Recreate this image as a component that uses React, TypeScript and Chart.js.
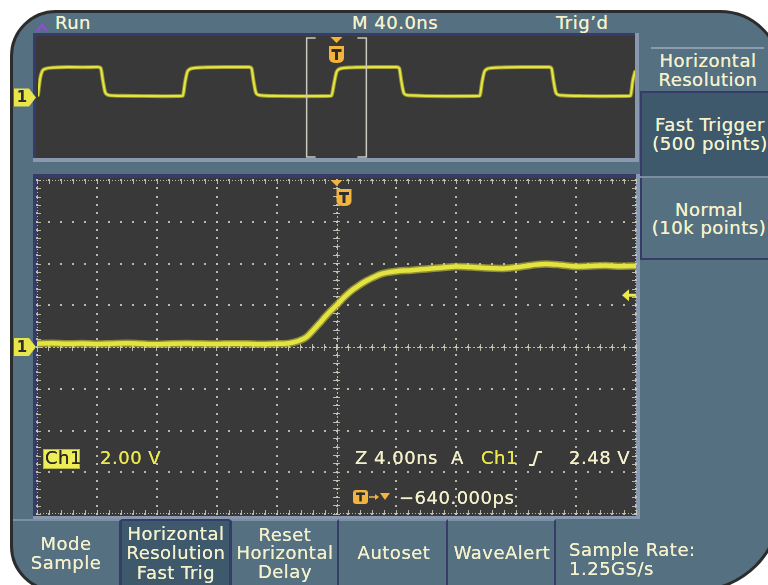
import React, { useEffect, useRef } from 'react';
import { Chart, registerables } from 'chart.js';

Chart.register(...registerables);

// ---------------- data ----------------
// Main (zoomed) acquisition: 4.00 ns/div, 2.00 V/div, trigger at 0 ns
const mainTimeNs = [
  -20, -19, -18, -17, -16, -15, -14, -13, -12, -11, -10, -9, -8, -7, -6, -5, -4,
  -3.5, -3, -2.5, -2, -1.5, -1, -0.5, 0, 0.5, 1, 1.5, 2, 2.5, 3, 3.5, 4,
  5, 6, 7, 8, 9, 10, 11, 12, 13, 14, 15, 16, 17, 18, 19, 20,
];
const mainVolts = [
  0.16, 0.18, 0.15, 0.17, 0.14, 0.16, 0.18, 0.15, 0.13, 0.16, 0.17, 0.15, 0.14, 0.16, 0.15, 0.13, 0.15,
  0.16, 0.2, 0.3, 0.48, 0.85, 1.25, 1.65, 2.0, 2.38, 2.7, 2.95, 3.17, 3.35, 3.5, 3.58, 3.63,
  3.68, 3.74, 3.8, 3.86, 3.83, 3.78, 3.76, 3.82, 3.92, 3.98, 3.93, 3.86, 3.88, 3.9, 3.87, 3.88,
];

// Overview record: 40.0 ns/div
const overviewTimeNs = [
  0, 1.5, 3, 5, 10, 20, 30, 40,
  42, 43.5, 45, 46.5, 48, 55, 70, 85,
  97, 98.5, 100, 101.5, 104, 110, 125, 141.5,
  143, 144.5, 146, 147.5, 150, 160, 180,
  196.5, 198.5, 200, 201.5, 204, 210, 225, 240.5,
  242, 243.5, 245, 246.5, 250, 260, 280,
  296, 297.5, 299, 300.5, 303, 310, 325, 342.5,
  344, 345.5, 347, 348.5, 352, 365, 380,
  397, 398.5, 400,
];
const overviewVolts = [
  0.3, 2.6, 3.55, 3.8, 3.95, 4.02, 4.0, 4.03,
  3.9, 2.2, 0.7, 0.38, 0.28, 0.22, 0.2, 0.18,
  0.22, 2.0, 3.35, 3.72, 3.88, 3.97, 4.02, 4.02,
  3.88, 2.1, 0.65, 0.36, 0.27, 0.2, 0.18,
  0.22, 2.0, 3.35, 3.72, 3.88, 3.97, 4.02, 4.02,
  3.88, 2.1, 0.65, 0.36, 0.27, 0.2, 0.18,
  0.22, 2.0, 3.35, 3.72, 3.88, 3.97, 4.02, 4.02,
  3.88, 2.1, 0.65, 0.36, 0.27, 0.2, 0.18,
  0.22, 2.2, 3.4,
];

const mainTimeDivs = [-20, -16, -12, -8, -4, 0, 4, 8, 12, 16, 20];
const voltDivs = [-8, -6, -4, -2, 0, 2, 4, 6, 8];
const overviewTimeRange = [0, 400];
const zoomWindowNs = [180, 220];
const overviewTriggerNs = 200;
const mainTriggerNs = 0;
const triggerLevelV = 2.48;
const ch1OffsetV = 0;

// ---------------- styles ----------------
const BEZEL = '#557080';
const BEZEL_DARK = '#3d596b';
const NAVY = '#363b68';
const LIGHT = '#8898ae';
const SCREEN = '#393939';
const CREAM = '#f4f1cc';
const YELLOW = '#ebe94c';
const ORANGE = '#f2b43c';
const FONT = '"DejaVu Sans", Verdana, sans-serif';

function drawChannelMarker(ctx: CanvasRenderingContext2D, y: number) {
  ctx.save();
  ctx.fillStyle = '#e8e64a';
  ctx.beginPath();
  ctx.moveTo(14, y - 9);
  ctx.lineTo(29, y - 9);
  ctx.lineTo(36, y);
  ctx.lineTo(29, y + 9);
  ctx.lineTo(14, y + 9);
  ctx.closePath();
  ctx.fill();
  ctx.fillStyle = '#2e2e2e';
  ctx.font = `bold 15px ${FONT}`;
  ctx.textAlign = 'center';
  ctx.textBaseline = 'middle';
  ctx.fillText('1', 22, y + 1);
  ctx.restore();
}

function drawTriggerMarker(ctx: CanvasRenderingContext2D, tx: number, triTop: number, sx: number, sTop: number) {
  ctx.save();
  ctx.fillStyle = ORANGE;
  ctx.beginPath();
  ctx.moveTo(tx - 6, triTop);
  ctx.lineTo(tx + 6, triTop);
  ctx.lineTo(tx, triTop + 6);
  ctx.closePath();
  ctx.fill();
  const w = 15, h = 17;
  ctx.beginPath();
  ctx.moveTo(sx - w / 2, sTop);
  ctx.lineTo(sx + w / 2, sTop);
  ctx.lineTo(sx + w / 2, sTop + h - 5);
  ctx.quadraticCurveTo(sx + w / 2, sTop + h, sx, sTop + h);
  ctx.quadraticCurveTo(sx - w / 2, sTop + h, sx - w / 2, sTop + h - 5);
  ctx.closePath();
  ctx.fill();
  ctx.fillStyle = '#2e2e2e';
  ctx.fillRect(sx - 5, sTop + 3, 10, 3);
  ctx.fillRect(sx - 1.5, sTop + 3, 3, 11);
  ctx.restore();
}

function minorValues(divs: number[]) {
  const out: number[] = [];
  for (let i = 0; i < divs.length - 1; i++) {
    for (let k = 0; k < 5; k++) out.push(divs[i] + ((divs[i + 1] - divs[i]) * k) / 5);
  }
  out.push(divs[divs.length - 1]);
  return out;
}

const graticulePlugin = {
  id: 'graticule',
  beforeDatasetsDraw(chart: any) {
    const { ctx, chartArea: a, scales } = chart;
    const xs = scales.x, ys = scales.y;
    const xMinor = minorValues(mainTimeDivs);
    const yMinor = minorValues(voltDivs);
    ctx.save();
    ctx.fillStyle = 'rgba(200,200,184,0.9)';
    const dot = (px: number, py: number, w = 2, h = 2) =>
      ctx.fillRect(Math.round(px - w / 2), Math.round(py - h / 2), w, h);
    for (const tv of mainTimeDivs) {
      const px = xs.getPixelForValue(tv);
      for (const v of yMinor) dot(px, ys.getPixelForValue(v));
    }
    for (const v of voltDivs) {
      const py = ys.getPixelForValue(v);
      for (const tv of xMinor) dot(xs.getPixelForValue(tv), py);
    }
    const cx = xs.getPixelForValue(0), cy = ys.getPixelForValue(0);
    for (const v of yMinor) dot(cx, ys.getPixelForValue(v), 7, 1);
    for (const tv of xMinor) dot(xs.getPixelForValue(tv), cy, 1, 7);
    for (let py = a.top; py <= a.bottom; py += 4) ctx.fillRect(Math.round(cx), py, 1, 2);
    for (let px = a.left; px <= a.right; px += 4) ctx.fillRect(px, Math.round(cy), 2, 1);
    for (const v of yMinor) {
      const py = Math.round(ys.getPixelForValue(v));
      ctx.fillRect(a.left, py, 4, 1);
      ctx.fillRect(a.right - 4, py, 4, 1);
    }
    for (const tv of xMinor) {
      const px = Math.round(xs.getPixelForValue(tv));
      ctx.fillRect(px, a.top, 1, 4);
      ctx.fillRect(px, a.bottom - 4, 1, 4);
    }
    for (let px = a.left; px <= a.right; px += 3) {
      ctx.fillRect(px, a.top, 1, 1);
      ctx.fillRect(px, a.bottom - 1, 1, 1);
    }
    for (let py = a.top; py <= a.bottom; py += 3) {
      ctx.fillRect(a.left, py, 1, 1);
      ctx.fillRect(a.right - 1, py, 1, 1);
    }
    ctx.restore();
  },
};

const mainMarkersPlugin = {
  id: 'mainMarkers',
  afterDatasetsDraw(chart: any) {
    const { ctx, chartArea: a, scales } = chart;
    const xs = scales.x, ys = scales.y;
    drawChannelMarker(ctx, ys.getPixelForValue(ch1OffsetV));
    const ty = ys.getPixelForValue(triggerLevelV);
    ctx.save();
    ctx.fillStyle = YELLOW;
    ctx.beginPath();
    ctx.moveTo(a.right - 14, ty);
    ctx.lineTo(a.right - 7, ty - 6);
    ctx.lineTo(a.right - 7, ty + 6);
    ctx.closePath();
    ctx.fill();
    ctx.fillRect(a.right - 8, ty - 1.5, 8, 3);
    ctx.restore();
    const tx = xs.getPixelForValue(mainTriggerNs);
    drawTriggerMarker(ctx, tx, a.top, tx + 7.5, a.top + 9);
  },
};

const overviewMarkersPlugin = {
  id: 'overviewMarkers',
  afterDatasetsDraw(chart: any) {
    const { ctx, chartArea: a, scales } = chart;
    const xs = scales.x, ys = scales.y;
    drawChannelMarker(ctx, ys.getPixelForValue(ch1OffsetV));
    const xa = xs.getPixelForValue(zoomWindowNs[0]);
    const xb = xs.getPixelForValue(zoomWindowNs[1]);
    ctx.save();
    ctx.strokeStyle = '#c9c9bf';
    ctx.lineWidth = 1.5;
    ctx.beginPath();
    ctx.moveTo(xa + 9, a.top + 1); ctx.lineTo(xa, a.top + 1); ctx.lineTo(xa, a.bottom - 1); ctx.lineTo(xa + 9, a.bottom - 1);
    ctx.moveTo(xb - 9, a.top + 1); ctx.lineTo(xb, a.top + 1); ctx.lineTo(xb, a.bottom - 1); ctx.lineTo(xb - 9, a.bottom - 1);
    ctx.stroke();
    ctx.restore();
    const tx = xs.getPixelForValue(overviewTriggerNs);
    drawTriggerMarker(ctx, tx, a.top, tx, a.top + 9);
  },
};

function traceDatasets(times: number[], volts: number[], outer: number, inner: number) {
  const pts = times.map((t, i) => ({ x: t, y: volts[i] }));
  const common = { pointRadius: 0, fill: false, cubicInterpolationMode: 'monotone' as const, borderJoinStyle: 'round' as const, borderCapStyle: 'round' as const };
  return [
    { ...common, data: pts, borderColor: 'rgba(215,215,55,0.55)', borderWidth: outer },
    { ...common, data: pts, borderColor: '#f4f44c', borderWidth: inner },
  ];
}

function baseOptions(xMin: number, xMax: number, padding: any) {
  return {
    animation: false as const,
    responsive: false,
    maintainAspectRatio: false,
    events: [] as any[],
    layout: { padding },
    scales: {
      x: { type: 'linear' as const, min: xMin, max: xMax, display: false },
      y: { type: 'linear' as const, min: voltDivs[0], max: voltDivs[voltDivs.length - 1], display: false },
    },
    plugins: { legend: { display: false }, tooltip: { enabled: false } },
  };
}

const Txt = ({ x, cy, children, color = CREAM, align = 'left', size = 18 }: any) => (
  <div
    style={{
      position: 'absolute',
      left: x,
      top: cy - size * 0.482,
      fontSize: size,
      lineHeight: `${size}px`,
      color,
      whiteSpace: 'nowrap',
      letterSpacing: '0.5px',
      textShadow: `0 0 0.6px ${color}`,
      transform: align === 'center' ? 'translateX(-50%)' : undefined,
    }}
  >
    {children}
  </div>
);

const Box = (p: any) => <div style={{ position: 'absolute', boxSizing: 'border-box', ...p }} />;

export default function App() {
  const ovRef = useRef<HTMLCanvasElement>(null);
  const mainRef = useRef<HTMLCanvasElement>(null);

  useEffect(() => {
    const ov = new Chart(ovRef.current as HTMLCanvasElement, {
      type: 'line',
      data: { datasets: traceDatasets(overviewTimeNs, overviewVolts, 4, 2.2) as any },
      options: baseOptions(overviewTimeRange[0], overviewTimeRange[1], { left: 38, right: 5, top: 7, bottom: 4 }) as any,
      plugins: [overviewMarkersPlugin],
    });
    const main = new Chart(mainRef.current as HTMLCanvasElement, {
      type: 'line',
      data: { datasets: traceDatasets(mainTimeNs, mainVolts, 7.5, 4.5) as any },
      options: baseOptions(mainTimeDivs[0], mainTimeDivs[mainTimeDivs.length - 1], { left: 37, right: 4, top: 15, bottom: 6 }) as any,
      plugins: [graticulePlugin, mainMarkersPlugin],
    });
    return () => {
      ov.destroy();
      main.destroy();
    };
  }, []);

  return (
    <div style={{ position: 'fixed', left: 0, top: 0, width: 768, height: 585, background: '#fff', overflow: 'hidden', fontFamily: FONT }}>
      <div
        style={{
          position: 'absolute', left: 10, top: 10, width: 772, height: 582, boxSizing: 'border-box',
          border: '3px solid #2c2c2c', borderRadius: '46px 62px 86px 46px', overflow: 'hidden', background: BEZEL,
        }}
      >
        <div style={{ position: 'absolute', left: -13, top: -13, width: 800, height: 620 }}>
          {/* status line */}
          <svg style={{ position: 'absolute', left: 0, top: 0 }} width={60} height={40}>
            <polygon points="36,31 42,22 48,31 45,31 42,26.5 39,31" fill="#8a4fd0" />
          </svg>
          <Txt x={55} cy={23}>Run</Txt>
          <Txt x={352} cy={23}>M 40.0ns</Txt>
          <Txt x={556} cy={23}>Trig’d</Txt>

          {/* overview panel */}
          <Box left={33} top={33} width={606} height={129} background={LIGHT} />
          <Box left={33} top={33} width={602} height={125} background={NAVY} />
          <Box left={36} top={36} width={599} height={122} background={SCREEN} />

          {/* main panel */}
          <Box left={33} top={174} width={607} height={345} background={LIGHT} />
          <Box left={33} top={174} width={603} height={342} background={NAVY} />
          <Box left={37} top={178} width={599} height={338} background={SCREEN} />

          <canvas ref={ovRef} width={640} height={132} style={{ position: 'absolute', left: 0, top: 30 }} />
          <canvas ref={mainRef} width={640} height={355} style={{ position: 'absolute', left: 0, top: 165 }} />

          {/* readouts */}
          <Box left={43} top={449} width={37} height={20} background="#efed56" border="1px solid #b8b640" />
          <Txt x={45} cy={458} color="#2a2a2a">Ch1</Txt>
          <Txt x={100} cy={458} color={YELLOW}>2.00 V</Txt>
          <Txt x={355} cy={458}>Z 4.00ns</Txt>
          <Txt x={451} cy={458}>A</Txt>
          <Txt x={481} cy={458} color={YELLOW}>Ch1</Txt>
          <svg style={{ position: 'absolute', left: 0, top: 0 }} width={640} height={520}>
            <polyline points="529,465 533.5,465 537.5,452 542,452" fill="none" stroke={CREAM} strokeWidth={2} />
            <rect x={353} y={490} width={15} height={14} rx={3} fill={ORANGE} />
            <rect x={356} y={492.5} width={9} height={2.5} fill="#2e2e2e" />
            <rect x={359.3} y={492.5} width={2.5} height={9} fill="#2e2e2e" />
            <line x1={369} y1={497} x2={376} y2={497} stroke={ORANGE} strokeWidth={1.5} />
            <polygon points="375,494 379,497 375,500" fill={ORANGE} />
            <polygon points="380,493 390,493 385,500" fill={ORANGE} />
          </svg>
          <Txt x={569} cy={458}>2.48 V</Txt>
          <Txt x={399} cy={498}>−640.000ps</Txt>

          {/* right side menu */}
          <Box left={651} top={47} width={113} height={2} background="#8a9cae" />
          <Txt x={708} cy={61} align="center">Horizontal</Txt>
          <Txt x={708} cy={79.5} align="center">Resolution</Txt>
          <Box left={640} top={91} width={140} height={85} background={BEZEL_DARK} borderTop={`2px solid ${NAVY}`} borderLeft={`2px solid ${NAVY}`} />
          <Txt x={710} cy={125} align="center">Fast Trigger</Txt>
          <Txt x={710} cy={143.5} align="center">(500 points)</Txt>
          <Box left={640} top={176} width={140} height={2} background="#7a8ea0" />
          <Box left={640} top={178} width={140} height={82} borderLeft={`2px solid ${NAVY}`} borderBottom={`2px solid ${NAVY}`} />
          <Txt x={709} cy={209.5} align="center">Normal</Txt>
          <Txt x={709} cy={228} align="center">(10k points)</Txt>

          {/* bottom buttons */}
          <Box left={10} top={519} width={112} height={80} borderTop="2px solid #7b90a3" borderRight={`3px solid ${NAVY}`} />
          <Box left={122} top={519} width={107} height={80} background={BEZEL_DARK} borderTop={`2px solid ${NAVY}`} />
          <Box left={229} top={519} width={110} height={80} borderTop="2px solid #7b90a3" borderLeft={`3px solid ${NAVY}`} borderRight={`2px solid ${NAVY}`} />
          <Box left={339} top={519} width={109} height={80} borderTop="2px solid #7b90a3" borderRight={`2px solid ${NAVY}`} />
          <Box left={448} top={519} width={108} height={80} borderTop="2px solid #7b90a3" borderRight={`2px solid ${NAVY}`} />

          <Txt x={66} cy={544} align="center">Mode</Txt>
          <Txt x={66} cy={562.5} align="center">Sample</Txt>
          <Txt x={176} cy={534} align="center">Horizontal</Txt>
          <Txt x={176} cy={553} align="center">Resolution</Txt>
          <Txt x={176} cy={573} align="center">Fast Trig</Txt>
          <Txt x={285} cy={534.5} align="center">Reset</Txt>
          <Txt x={285} cy={553} align="center">Horizontal</Txt>
          <Txt x={285} cy={572} align="center">Delay</Txt>
          <Txt x={394} cy={552.5} align="center">Autoset</Txt>
          <Txt x={502} cy={552.5} align="center">WaveAlert</Txt>
          <Txt x={569} cy={550}>Sample Rate:</Txt>
          <Txt x={569} cy={568.5}>1.25GS/s</Txt>
        </div>
      </div>
    </div>
  );
}
